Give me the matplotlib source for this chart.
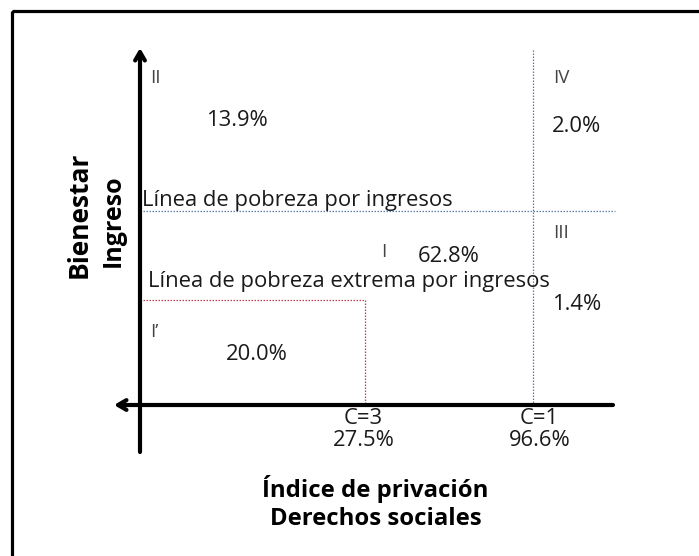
import matplotlib
matplotlib.use("Agg")
import matplotlib.pyplot as plt
from matplotlib.patches import Rectangle

# ---- data (text content and values) ----
quadrant_names = ["II", "IV", "III", "I", "I\u2019"]
quadrant_shares = ["13.9%", "2.0%", "1.4%", "62.8%", "20.0%"]
threshold_labels = ["C=3", "C=1"]
threshold_shares = ["27.5%", "96.6%"]
line_labels = ["L\u00ednea de pobreza por ingresos",
               "L\u00ednea de pobreza extrema por ingresos"]
x_title = ["\u00cdndice de privaci\u00f3n", "Derechos sociales"]
y_title = ["Bienestar", "Ingreso"]

# ---- layout (pixel coordinate system of the diagram) ----
W, H = 699, 556
fig = plt.figure(figsize=(W / 100, H / 100), dpi=100)
ax = fig.add_axes([0, 0, 1, 1])
ax.set_xlim(0, W)
ax.set_ylim(H, 0)
ax.axis("off")

FONT = "Open Sans"
fs = 15.8

# outer frame
ax.add_patch(Rectangle((12, 11), 700, 560, fill=False, lw=2.3, ec="black"))

# axes with arrows
ax.annotate("", xy=(140, 48), xytext=(140, 452),
            arrowprops=dict(arrowstyle="->,head_length=0.6,head_width=0.35",
                            lw=3.0, color="black", shrinkA=0, shrinkB=0))
ax.annotate("", xy=(114, 405), xytext=(613, 405),
            arrowprops=dict(arrowstyle="->,head_length=0.6,head_width=0.35",
                            lw=3.0, color="black", shrinkA=0, shrinkB=0))

blue = "#5a7fa8"
red = "#c0404a"
# poverty line (income) and C=1
ax.plot([140, 615], [211, 211], ls=(0, (1.2, 1.2)), lw=0.9, color=blue)
ax.plot([533, 533], [50, 405], ls=(0, (1.2, 1.2)), lw=0.9, color=blue)
# extreme poverty line and C=3
ax.plot([140, 365], [300, 300], ls=(0, (1.2, 1.2)), lw=0.9, color=red)
ax.plot([365, 365], [300, 405], ls=(0, (1.2, 1.2)), lw=0.9, color=red)

tc = "#1a1a1a"
def t(x, y, s, ha="left", va="center", **kw):
    ax.text(x, y, s, ha=ha, va=va, fontsize=kw.pop("fontsize", fs),
            family=FONT, color=kw.pop("color", tc), **kw)

# quadrant names
name_pos = [(150, 78), (553, 78), (553, 233), (381, 252), (150, 332)]
for (x, y), s in zip(name_pos, quadrant_names):
    t(x, y, s, color="#444444", fontsize=13.5)

# quadrant shares
share_pos = [(237, 120, "center"), (552, 127, "left"), (552, 305, "left"),
             (449, 256, "center"), (257, 354, "center")]
for (x, y, ha), s in zip(share_pos, quadrant_shares):
    t(x, y, s, ha=ha)

# line labels
t(142, 206, line_labels[0], va="baseline")
t(148, 287, line_labels[1], va="baseline")

# thresholds
thr_x = [363, 539]
for x, lab, sh in zip(thr_x, threshold_labels, threshold_shares):
    t(x, 418, lab, ha="center")
    t(x + 1, 441, sh, ha="center")

# axis titles
t(375, 489, x_title[0], ha="center", fontsize=17.2, weight="bold", color="black")
t(376, 519, x_title[1], ha="center", fontsize=17.2, weight="bold", color="black")
t(79, 215, y_title[0], ha="center", fontsize=19, weight="bold", color="black",
  rotation=90)
t(113, 221, y_title[1], ha="center", fontsize=18, weight="bold", color="black",
  rotation=90)

fig.savefig("out.png", dpi=100, facecolor="white")
